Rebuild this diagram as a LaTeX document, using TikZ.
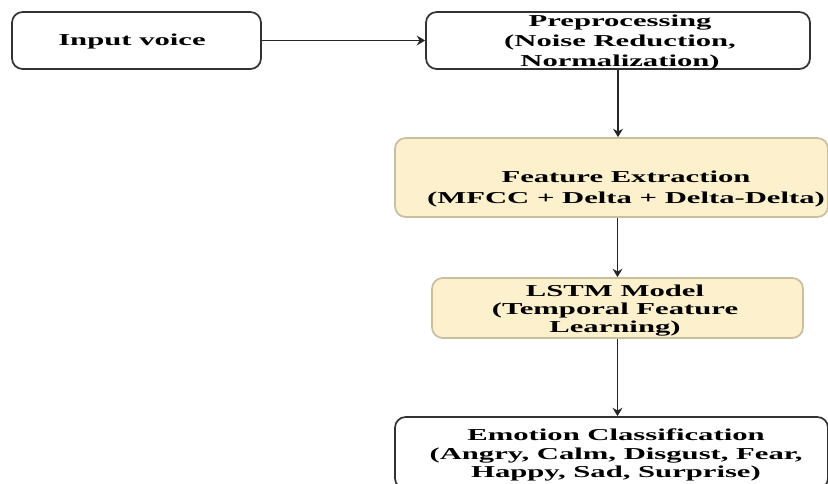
\documentclass[tikz,border=0pt]{standalone}
\usepackage{fontspec}
\setmainfont[FakeStretch=1.84]{Liberation Serif}
\usepackage{tikz}
\usetikzlibrary{arrows.meta, calc, positioning}
\definecolor{boxline}{RGB}{50,50,50}
\definecolor{sandfill}{RGB}{252,240,205}
\definecolor{sandline}{RGB}{200,190,160}
\tikzset{
  plainbox/.style ={draw=boxline, fill=white, rounded corners=8pt, line width=1.3pt, inner sep=0pt},
  sandbox/.style  ={draw=sandline, fill=sandfill, rounded corners=8pt, line width=1.3pt, inner sep=0pt},
  boxtxt/.style   ={align=center, inner sep=0pt, font=\fontsize{12.5}{13.6}\selectfont\bfseries},
  flow/.style     ={-{Stealth[length=2.2mm, width=2.6mm]}, line width=1.2pt, black!85},
}

\begin{document}
\begin{tikzpicture}[x=0.75pt, y=-0.75pt]
  \useasboundingbox (0,0) rectangle (828,483);
  % input and preprocessing
  \node[plainbox, minimum width=186.75pt, minimum height=42.75pt] (voice) at (136.5,40.5) {};
  \node[boxtxt] (voicetxt) at (132,41) {Input voice};
  \node[plainbox, minimum width=288pt, minimum height=42.75pt] (prep) at (618,40.5) {};
  \node[boxtxt] (preptxt) at (620,42.5) {Preprocessing\\[1.2pt](Noise Reduction,\\[1.2pt]Normalization)};
  % features and model
  \node[sandbox, minimum width=324.75pt, minimum height=59.25pt] (feat) at (611.5,177.5) {};
  \node[boxtxt] (feattxt) at (626,189) {Feature Extraction\\[2.5pt](MFCC + Delta + Delta-Delta)};
  \node[sandbox, minimum width=278.25pt, minimum height=45pt] (lstm) at (617.5,308) {};
  \node[boxtxt] (lstmtxt) at (615,310.5) {LSTM Model\\(Temporal Feature\\Learning)};
  % output
  \node[plainbox, minimum width=324.75pt, minimum height=54pt] (emot) at (611.5,453) {};
  \node[boxtxt] (emottxt) at (616,455) {Emotion Classification\\(Angry, Calm, Disgust, Fear,\\Happy, Sad, Surprise)};

  \draw[flow] (voice.east) -- (prep.west);
  \draw[flow] (prep.south) -- (prep.south |- feat.north);
  \draw[flow] (feat.south -| lstm.north) -- (lstm.north);
  \draw[flow] (lstm.south) -- (lstm.south |- emot.north);
\end{tikzpicture}
\end{document}
